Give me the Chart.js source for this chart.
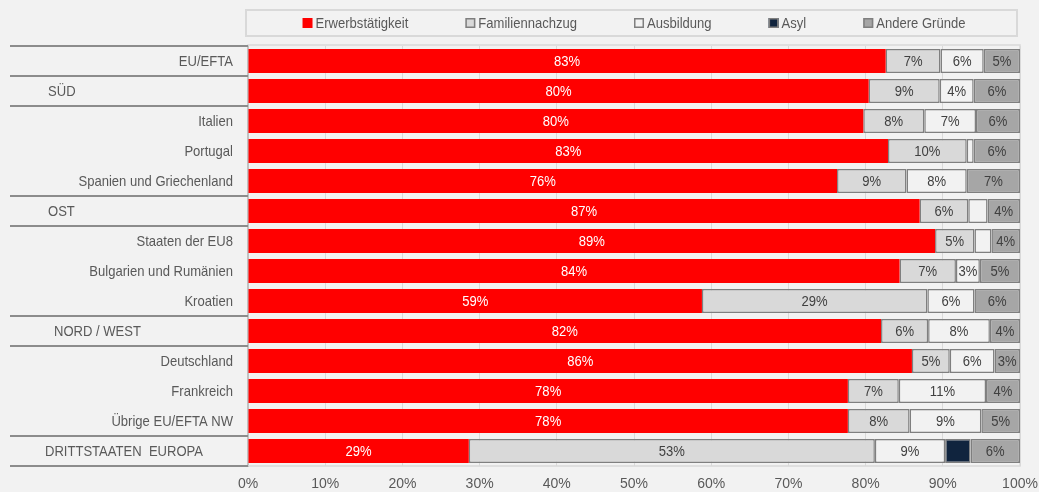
<!DOCTYPE html>
<html>
<head>
<meta charset="utf-8">
<script src="https://cdn.jsdelivr.net/npm/chart.js@4"></script>
<style>
  html, body { margin: 0; padding: 0; background: #f2f2f2; }
  #wrap { width: 1039px; height: 492px; }
</style>
</head>
<body>
<div id="wrap"><canvas id="gruende"></canvas></div>
<script>
const categories = ['EU/EFTA', 'SÜD', 'Italien', 'Portugal', 'Spanien und Griechenland', 'OST',
    'Staaten der EU8', 'Bulgarien und Rumänien', 'Kroatien', 'NORD / WEST', 'Deutschland',
    'Frankreich', 'Übrige EU/EFTA NW', 'DRITTSTAATEN  EUROPA'];

const erwerb     = [82.6, 80.4, 79.7, 82.9, 76.3, 87.0, 89.0, 84.4, 58.8, 82.0, 86.0, 77.7, 77.7, 28.6];
const familie    = [ 7.1,  9.2,  7.9, 10.2,  9.0,  6.3,  5.1,  7.3, 29.2,  6.1,  4.9,  6.6,  8.0, 52.6];
const ausbildung = [ 5.6,  4.4,  6.7,  0.9,  7.8,  2.5,  2.2,  3.1,  6.1,  8.0,  5.8, 11.3,  9.3,  9.1];
const asyl       = [ 0,    0,    0,    0,    0,    0,    0,    0,    0,    0,    0,    0,    0,    3.3];
const andere     = [ 4.7,  6.0,  5.7,  6.0,  6.9,  4.2,  3.7,  5.2,  5.9,  3.9,  3.3,  4.4,  5.0,  6.4];

const xTicks = [0, 10, 20, 30, 40, 50, 60, 70, 80, 90, 100];

const FONT = "'Liberation Sans', Arial, sans-serif";
const TEXT = '#595959';
const EDGE = '#7f7f7f';
const SQUEEZE = 0.87; // the original uses a narrow face

// rows with a line below them in the label column
const lineAfter = [-1, 0, 1, 4, 5, 8, 9, 12, 13];
// region rows are left aligned
const regionX = { 'SÜD': 48, 'OST': 48, 'NORD / WEST': 54, 'DRITTSTAATEN  EUROPA': 45 };

function narrowText(ctx, text, x, y, align) {
    ctx.save();
    ctx.translate(x, y);
    ctx.scale(SQUEEZE, 1);
    ctx.textAlign = align;
    ctx.fillText(text, 0, 0);
    ctx.restore();
}

const extras = {
    id: 'extras',
    beforeDatasetsDraw(chart) {
        const { ctx, chartArea: a } = chart;
        ctx.save();
        ctx.strokeStyle = '#d9d9d9';
        ctx.lineWidth = 1.5;
        ctx.strokeRect(a.left, a.top - 1, a.right - a.left, a.bottom - a.top + 1);
        ctx.restore();
    },
    afterDatasetsDraw(chart) {
        const ctx = chart.ctx;
        ctx.save();
        ctx.font = '15px ' + FONT;
        ctx.textBaseline = 'middle';
        chart.data.datasets.forEach((ds, di) => {
            if (ds.label === 'Asyl') return;
            chart.getDatasetMeta(di).data.forEach((bar, i) => {
                const v = ds.data[i];
                if (v < 3) return;
                const p = bar.getCenterPoint();
                ctx.fillStyle = di === 0 ? '#ffffff' : '#404040';
                narrowText(ctx, Math.round(v) + '%', p.x, p.y + 1, 'center');
            });
        });
        ctx.restore();
    },
    afterDraw(chart) {
        const { ctx, chartArea: a } = chart;
        const y = chart.scales.y;
        const half = (y.getPixelForValue(1) - y.getPixelForValue(0)) / 2;
        ctx.save();

        // category labels
        ctx.font = '15px ' + FONT;
        ctx.fillStyle = TEXT;
        ctx.textBaseline = 'middle';
        categories.forEach((c, i) => {
            const py = y.getPixelForValue(i) + 1;
            if (regionX[c] !== undefined) {
                narrowText(ctx, c, regionX[c], py, 'left');
            } else {
                narrowText(ctx, c, 233, py, 'right');
            }
        });

        // group lines
        ctx.strokeStyle = '#8c8c8c';
        ctx.lineWidth = 2;
        lineAfter.forEach(i => {
            const py = Math.round(y.getPixelForValue(i) + half);
            ctx.beginPath();
            ctx.moveTo(10, py);
            ctx.lineTo(a.left, py);
            ctx.stroke();
        });

        // legend frame
        ctx.strokeStyle = '#d9d9d9';
        ctx.lineWidth = 2;
        ctx.strokeRect(a.left - 2, 10, a.right - a.left - 1, 26);

        // legend items
        const items = chart.data.datasets.map(ds => ({
            text: ds.label, fill: ds.backgroundColor, border: ds.borderWidth ? EDGE : null
        }));
        const gap = 57;
        let total = 0;
        items.forEach(it => { it.w = 13 + ctx.measureText(it.text).width * SQUEEZE; total += it.w; });
        total += gap * (items.length - 1);
        let x = (a.left + a.right) / 2 - total / 2;
        items.forEach(it => {
            ctx.fillStyle = it.fill;
            ctx.fillRect(x, 18, 10, 10);
            if (it.border) {
                ctx.strokeStyle = it.border;
                ctx.lineWidth = 1.5;
                ctx.strokeRect(x + 0.75, 18.75, 8.5, 8.5);
            }
            ctx.fillStyle = TEXT;
            narrowText(ctx, it.text, x + 13, 24, 'left');
            x += it.w + gap;
        });
        ctx.restore();
    }
};

function makeSet(label, data, color, border) {
    return {
        label: label,
        data: data,
        backgroundColor: color,
        borderColor: EDGE,
        borderWidth: border ? 1.5 : 0,
        borderSkipped: false
    };
}

new Chart(document.getElementById('gruende'), {
    type: 'bar',
    data: {
        labels: categories,
        datasets: [
            makeSet('Erwerbstätigkeit', erwerb, '#ff0000', false),
            makeSet('Familiennachzug', familie, '#d9d9d9', true),
            makeSet('Ausbildung', ausbildung, '#f2f2f2', true),
            makeSet('Asyl', asyl, '#10243e', true),
            makeSet('Andere Gründe', andere, '#a6a6a6', true)
        ]
    },
    options: {
        indexAxis: 'y',
        responsive: true,
        maintainAspectRatio: false,
        animation: false,
        layout: { padding: { top: 46, right: 19, left: 0, bottom: 0 } },
        datasets: { bar: { categoryPercentage: 1, barPercentage: 0.8 } },
        scales: {
            x: {
                stacked: true,
                min: 0,
                max: 100,
                afterBuildTicks: s => { s.ticks = xTicks.map(v => ({ value: v })); },
                afterFit: s => { s.height = 26; s.paddingLeft = 0; s.paddingRight = 0; },
                grid: { color: '#d9d9d9', lineWidth: 1, drawTicks: false },
                border: { display: false },
                ticks: {
                    padding: 10,
                    color: TEXT,
                    font: { family: FONT, size: 14 },
                    callback: v => v + '%'
                }
            },
            y: {
                stacked: true,
                grid: { display: false },
                border: { display: true, color: EDGE, width: 2 },
                ticks: { display: false },
                afterFit: s => { s.width = 248; }
            }
        },
        plugins: {
            legend: { display: false },
            tooltip: { enabled: false }
        }
    },
    plugins: [extras]
});
</script>
</body>
</html>
